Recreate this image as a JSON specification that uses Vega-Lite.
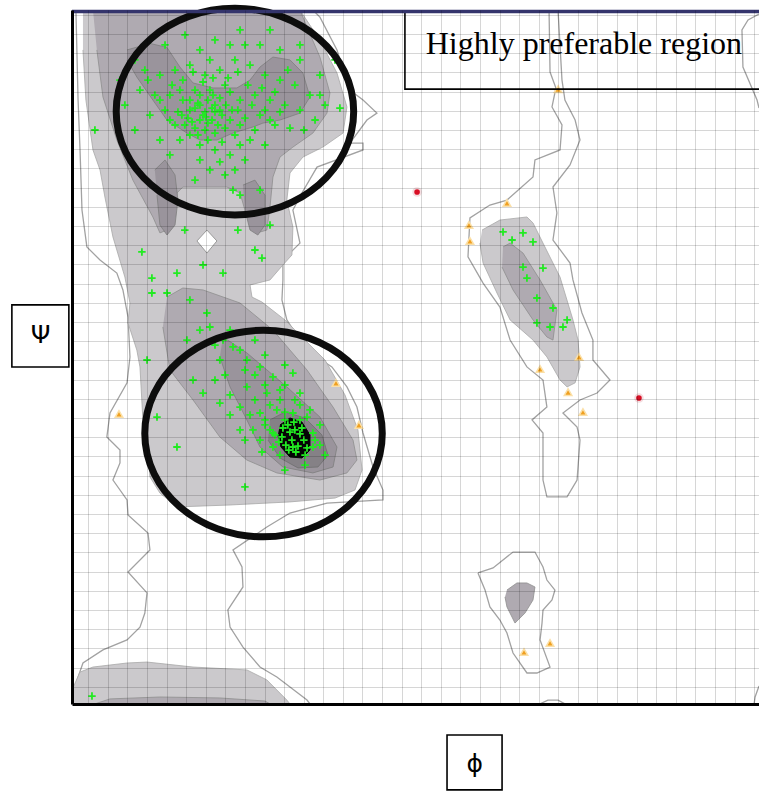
{
  "$schema": "https://vega.github.io/schema/vega-lite/v6.json",
  "width": 687,
  "height": 694,
  "autosize": {"type": "none"},
  "padding": {"left": 72, "top": 10, "right": 0, "bottom": 88},
  "background": "white",
  "config": {"view": {"stroke": null}},
  "datasets": {
    "poly": [
      {"s":"outL","i":0,"phi":-176.3,"psi":182.5},{"s":"outL","i":1,"phi":-175.2,"psi":135.6},{"s":"outL","i":2,"phi":-174.2,"psi":109.6},{"s":"outL","i":3,"phi":-173.2,"psi":78.3},{"s":"outL","i":4,"phi":-170.7,"psi":59.1},{"s":"outL","i":5,"phi":-164.0,"psi":52.3},{"s":"outL","i":6,"phi":-155.4,"psi":45.5},{"s":"outL","i":7,"phi":-152.3,"psi":36.7},{"s":"outL","i":8,"phi":-149.7,"psi":22.6},{"s":"outL","i":9,"phi":-148.7,"psi":1.8},{"s":"outL","i":10,"phi":-150.2,"psi":-11.7},{"s":"outL","i":11,"phi":-158.9,"psi":-27.4},{"s":"outL","i":12,"phi":-160.5,"psi":-39.9},{"s":"outL","i":13,"phi":-153.8,"psi":-46.7},{"s":"outL","i":14,"phi":-153.8,"psi":-53.4},{"s":"outL","i":15,"phi":-157.4,"psi":-62.3},{"s":"outL","i":16,"phi":-150.2,"psi":-72.7},{"s":"outL","i":17,"phi":-149.7,"psi":-80.5},{"s":"outL","i":18,"phi":-139.5,"psi":-89.9},{"s":"outL","i":19,"phi":-138.5,"psi":-98.7},{"s":"outL","i":20,"phi":-149.7,"psi":-110.2},{"s":"outL","i":21,"phi":-140.0,"psi":-121.1},{"s":"outL","i":22,"phi":-141.1,"psi":-131.6},{"s":"outL","i":23,"phi":-143.6,"psi":-138.9},{"s":"outL","i":24,"phi":-150.2,"psi":-145.6},{"s":"outL","i":25,"phi":-162.5,"psi":-150.8},{"s":"outL","i":26,"phi":-172.7,"psi":-157.6},{"s":"outL","i":27,"phi":-175.7,"psi":-166.4},{"s":"outL","i":28,"phi":-177.8,"psi":-176.9},{"s":"outL","i":29,"phi":-177.8,"psi":-178.9},{"s":"outL","i":30,"phi":-56.8,"psi":-178.9},{"s":"outL","i":31,"phi":-58.3,"psi":-176.9},{"s":"outL","i":32,"phi":-67.0,"psi":-170.1},{"s":"outL","i":33,"phi":-73.7,"psi":-164.9},{"s":"outL","i":34,"phi":-82.3,"psi":-159.7},{"s":"outL","i":35,"phi":-91.0,"psi":-149.3},{"s":"outL","i":36,"phi":-97.6,"psi":-138.9},{"s":"outL","i":37,"phi":-98.7,"psi":-130.0},{"s":"outL","i":38,"phi":-91.0,"psi":-118.0},{"s":"outL","i":39,"phi":-91.5,"psi":-107.6},{"s":"outL","i":40,"phi":-96.1,"psi":-98.7},{"s":"outL","i":41,"phi":-78.8,"psi":-86.8},{"s":"outL","i":42,"phi":-67.0,"psi":-79.5},{"s":"outL","i":43,"phi":-48.1,"psi":-74.3},{"s":"outL","i":44,"phi":-19.5,"psi":-72.7},{"s":"outL","i":45,"phi":-19.5,"psi":-67.5},{"s":"outL","i":46,"phi":-24.6,"psi":-55.5},{"s":"outL","i":47,"phi":-29.7,"psi":-37.8},{"s":"outL","i":48,"phi":-32.8,"psi":-24.3},{"s":"outL","i":49,"phi":-37.9,"psi":-13.8},{"s":"outL","i":50,"phi":-45.6,"psi":-3.4},{"s":"outL","i":51,"phi":-53.2,"psi":1.8},{"s":"outL","i":52,"phi":-61.9,"psi":10.6},{"s":"outL","i":53,"phi":-68.6,"psi":21.1},{"s":"outL","i":54,"phi":-71.1,"psi":31.5},{"s":"outL","i":55,"phi":-70.6,"psi":41.9},{"s":"outL","i":56,"phi":-70.6,"psi":52.3},{"s":"outL","i":57,"phi":-61.9,"psi":61.1},{"s":"outL","i":58,"phi":-65.5,"psi":78.3},{"s":"outL","i":59,"phi":-60.9,"psi":87.2},{"s":"outL","i":60,"phi":-53.2,"psi":100.7},{"s":"outL","i":61,"phi":-29.7,"psi":109.6},{"s":"outL","i":62,"phi":-29.7,"psi":113.2},{"s":"outL","i":63,"phi":-36.4,"psi":113.2},{"s":"outL","i":64,"phi":-27.7,"psi":125.2},{"s":"outL","i":65,"phi":-22.6,"psi":128.8},{"s":"outL","i":66,"phi":-29.7,"psi":135.6},{"s":"outL","i":67,"phi":-36.4,"psi":140.8},{"s":"outL","i":68,"phi":-43.0,"psi":161.7},{"s":"outL","i":69,"phi":-51.7,"psi":178.8},{"s":"outL","i":70,"phi":-55.3,"psi":182.5},{"s":"outL","i":71,"phi":-176.3,"psi":182.5},

      {"s":"L1","i":0,"phi":-172.7,"psi":182.5},{"s":"L1","i":1,"phi":-61.9,"psi":182.5},{"s":"L1","i":2,"phi":-51.7,"psi":166.7},{"s":"L1","i":3,"phi":-43.0,"psi":149.7},{"s":"L1","i":4,"phi":-37.9,"psi":132.0},{"s":"L1","i":5,"phi":-39.9,"psi":118.4},{"s":"L1","i":6,"phi":-50.2,"psi":111.1},{"s":"L1","i":7,"phi":-60.4,"psi":105.9},{"s":"L1","i":8,"phi":-67.0,"psi":97.6},{"s":"L1","i":9,"phi":-68.6,"psi":83.5},{"s":"L1","i":10,"phi":-65.5,"psi":69.5},{"s":"L1","i":11,"phi":-66.0,"psi":54.9},{"s":"L1","i":12,"phi":-70.6,"psi":49.7},{"s":"L1","i":13,"phi":-77.2,"psi":41.9},{"s":"L1","i":14,"phi":-87.4,"psi":39.3},{"s":"L1","i":15,"phi":-86.4,"psi":33.0},{"s":"L1","i":16,"phi":-81.3,"psi":30.4},{"s":"L1","i":17,"phi":-69.6,"psi":21.1},{"s":"L1","i":18,"phi":-61.9,"psi":13.2},{"s":"L1","i":19,"phi":-49.1,"psi":0.2},{"s":"L1","i":20,"phi":-38.9,"psi":-18.0},{"s":"L1","i":21,"phi":-32.3,"psi":-36.2},{"s":"L1","i":22,"phi":-30.2,"psi":-57.1},{"s":"L1","i":23,"phi":-33.8,"psi":-67.5},{"s":"L1","i":24,"phi":-44.0,"psi":-71.7},{"s":"L1","i":25,"phi":-67.0,"psi":-73.7},{"s":"L1","i":26,"phi":-97.6,"psi":-75.3},{"s":"L1","i":27,"phi":-124.7,"psi":-76.3},{"s":"L1","i":28,"phi":-133.4,"psi":-69.1},{"s":"L1","i":29,"phi":-138.5,"psi":-60.7},{"s":"L1","i":30,"phi":-139.5,"psi":-45.1},{"s":"L1","i":31,"phi":-142.1,"psi":-31.0},{"s":"L1","i":32,"phi":-143.6,"psi":-3.4},{"s":"L1","i":33,"phi":-145.2,"psi":5.4},{"s":"L1","i":34,"phi":-149.7,"psi":19.5},{"s":"L1","i":35,"phi":-148.7,"psi":29.9},{"s":"L1","i":36,"phi":-151.3,"psi":43.4},{"s":"L1","i":37,"phi":-157.4,"psi":64.3},{"s":"L1","i":38,"phi":-161.5,"psi":85.1},{"s":"L1","i":39,"phi":-164.0,"psi":99.2},{"s":"L1","i":40,"phi":-167.6,"psi":109.6},{"s":"L1","i":41,"phi":-171.2,"psi":135.6},{"s":"L1","i":42,"phi":-172.7,"psi":161.7},

      {"s":"BL1","i":0,"phi":-178.3,"psi":-171.6},{"s":"BL1","i":1,"phi":-174.2,"psi":-162.3},{"s":"BL1","i":2,"phi":-167.6,"psi":-159.7},{"s":"BL1","i":3,"phi":-150.2,"psi":-157.6},{"s":"BL1","i":4,"phi":-140.0,"psi":-157.1},{"s":"BL1","i":5,"phi":-116.5,"psi":-159.7},{"s":"BL1","i":6,"phi":-89.0,"psi":-161.2},{"s":"BL1","i":7,"phi":-78.8,"psi":-166.4},{"s":"BL1","i":8,"phi":-68.6,"psi":-176.9},{"s":"BL1","i":9,"phi":-67.0,"psi":-178.9},{"s":"BL1","i":10,"phi":-178.3,"psi":-178.9},

      {"s":"R1","i":0,"phi":31.1,"psi":67.9},{"s":"R1","i":1,"phi":40.2,"psi":73.1},{"s":"R1","i":2,"phi":54.0,"psi":74.7},{"s":"R1","i":3,"phi":57.1,"psi":71.6},{"s":"R1","i":4,"phi":62.2,"psi":61.1},{"s":"R1","i":5,"phi":70.9,"psi":43.4},{"s":"R1","i":6,"phi":77.5,"psi":21.1},{"s":"R1","i":7,"phi":80.1,"psi":10.6},{"s":"R1","i":8,"phi":81.1,"psi":-3.4},{"s":"R1","i":9,"phi":78.6,"psi":-11.7},{"s":"R1","i":10,"phi":74.5,"psi":-13.8},{"s":"R1","i":11,"phi":70.9,"psi":-10.2},{"s":"R1","i":12,"phi":64.2,"psi":1.8},{"s":"R1","i":13,"phi":57.1,"psi":10.6},{"s":"R1","i":14,"phi":45.4,"psi":21.1},{"s":"R1","i":15,"phi":38.7,"psi":35.1},{"s":"R1","i":16,"phi":31.6,"psi":50.7},{"s":"R1","i":17,"phi":30.0,"psi":61.1},

      {"s":"L2b","i":0,"phi":-167.6,"psi":182.5},{"s":"L2b","i":1,"phi":-61.9,"psi":182.5},{"s":"L2b","i":2,"phi":-58.3,"psi":173.6},{"s":"L2b","i":3,"phi":-51.7,"psi":158.0},{"s":"L2b","i":4,"phi":-46.6,"psi":139.3},{"s":"L2b","i":5,"phi":-48.1,"psi":128.8},{"s":"L2b","i":6,"phi":-55.3,"psi":118.4},{"s":"L2b","i":7,"phi":-65.5,"psi":111.1},{"s":"L2b","i":8,"phi":-72.1,"psi":105.9},{"s":"L2b","i":9,"phi":-75.7,"psi":95.5},{"s":"L2b","i":10,"phi":-77.2,"psi":79.9},{"s":"L2b","i":11,"phi":-78.8,"psi":67.9},{"s":"L2b","i":12,"phi":-83.9,"psi":66.4},{"s":"L2b","i":13,"phi":-89.0,"psi":74.7},{"s":"L2b","i":14,"phi":-92.5,"psi":87.2},{"s":"L2b","i":15,"phi":-99.2,"psi":90.3},{"s":"L2b","i":16,"phi":-113.0,"psi":90.3},{"s":"L2b","i":17,"phi":-121.7,"psi":90.3},{"s":"L2b","i":18,"phi":-124.7,"psi":87.2},{"s":"L2b","i":19,"phi":-126.8,"psi":74.7},{"s":"L2b","i":20,"phi":-129.8,"psi":67.9},{"s":"L2b","i":21,"phi":-133.4,"psi":66.4},{"s":"L2b","i":22,"phi":-137.0,"psi":74.7},{"s":"L2b","i":23,"phi":-147.2,"psi":93.9},{"s":"L2b","i":24,"phi":-155.4,"psi":114.8},{"s":"L2b","i":25,"phi":-162.5,"psi":137.2},{"s":"L2b","i":26,"phi":-165.6,"psi":161.7},

      {"s":"L2a","i":0,"phi":-129.8,"psi":33.0},{"s":"L2a","i":1,"phi":-121.7,"psi":37.7},{"s":"L2a","i":2,"phi":-111.4,"psi":36.7},{"s":"L2a","i":3,"phi":-92.5,"psi":29.9},{"s":"L2a","i":4,"phi":-75.7,"psi":15.8},{"s":"L2a","i":5,"phi":-58.3,"psi":-5.0},{"s":"L2a","i":6,"phi":-45.0,"psi":-24.3},{"s":"L2a","i":7,"phi":-34.8,"psi":-41.5},{"s":"L2a","i":8,"phi":-32.8,"psi":-51.9},{"s":"L2a","i":9,"phi":-37.9,"psi":-58.6},{"s":"L2a","i":10,"phi":-51.7,"psi":-62.3},{"s":"L2a","i":11,"phi":-73.7,"psi":-58.6},{"s":"L2a","i":12,"phi":-89.0,"psi":-51.9},{"s":"L2a","i":13,"phi":-102.8,"psi":-39.9},{"s":"L2a","i":14,"phi":-116.5,"psi":-20.6},{"s":"L2a","i":15,"phi":-128.3,"psi":-5.0},{"s":"L2a","i":16,"phi":-131.9,"psi":17.4},

      {"s":"BL2","i":0,"phi":-166.6,"psi":-178.9},{"s":"BL2","i":1,"phi":-158.9,"psi":-176.3},{"s":"BL2","i":2,"phi":-133.4,"psi":-175.3},{"s":"BL2","i":3,"phi":-102.8,"psi":-175.8},{"s":"BL2","i":4,"phi":-79.8,"psi":-177.4},{"s":"BL2","i":5,"phi":-77.2,"psi":-178.9},

      {"s":"R2","i":0,"phi":41.8,"psi":59.1},{"s":"R2","i":1,"phi":45.4,"psi":61.1},{"s":"R2","i":2,"phi":52.0,"psi":55.9},{"s":"R2","i":3,"phi":60.7,"psi":41.9},{"s":"R2","i":4,"phi":69.3,"psi":26.3},{"s":"R2","i":5,"phi":67.3,"psi":10.6},{"s":"R2","i":6,"phi":64.2,"psi":12.2},{"s":"R2","i":7,"phi":57.1,"psi":21.1},{"s":"R2","i":8,"phi":46.9,"psi":36.7},{"s":"R2","i":9,"phi":41.3,"psi":48.6},

      {"s":"S1","i":0,"phi":43.8,"psi":-119.6},{"s":"S1","i":1,"phi":48.9,"psi":-115.9},{"s":"S1","i":2,"phi":54.0,"psi":-115.9},{"s":"S1","i":3,"phi":58.1,"psi":-118.0},{"s":"S1","i":4,"phi":57.1,"psi":-124.8},{"s":"S1","i":5,"phi":53.0,"psi":-131.6},{"s":"S1","i":6,"phi":47.9,"psi":-136.8},{"s":"S1","i":7,"phi":43.8,"psi":-128.4},{"s":"S1","i":8,"phi":42.8,"psi":-123.2},

      {"s":"L3b","i":0,"phi":-150.2,"psi":161.7},{"s":"L3b","i":1,"phi":-138.5,"psi":165.1},{"s":"L3b","i":2,"phi":-129.8,"psi":163.0},{"s":"L3b","i":3,"phi":-123.2,"psi":152.8},{"s":"L3b","i":4,"phi":-116.5,"psi":144.5},{"s":"L3b","i":5,"phi":-106.3,"psi":141.9},{"s":"L3b","i":6,"phi":-94.1,"psi":141.9},{"s":"L3b","i":7,"phi":-87.4,"psi":146.0},{"s":"L3b","i":8,"phi":-82.3,"psi":152.8},{"s":"L3b","i":9,"phi":-75.7,"psi":158.0},{"s":"L3b","i":10,"phi":-67.0,"psi":156.5},{"s":"L3b","i":11,"phi":-60.4,"psi":149.7},{"s":"L3b","i":12,"phi":-56.8,"psi":137.2},{"s":"L3b","i":13,"phi":-61.9,"psi":128.8},{"s":"L3b","i":14,"phi":-72.1,"psi":125.2},{"s":"L3b","i":15,"phi":-80.8,"psi":123.6},{"s":"L3b","i":16,"phi":-85.9,"psi":121.6},{"s":"L3b","i":17,"phi":-96.1,"psi":118.4},{"s":"L3b","i":18,"phi":-104.3,"psi":114.8},{"s":"L3b","i":19,"phi":-113.0,"psi":114.8},{"s":"L3b","i":20,"phi":-119.6,"psi":118.4},{"s":"L3b","i":21,"phi":-129.8,"psi":125.2},{"s":"L3b","i":22,"phi":-137.0,"psi":135.6},{"s":"L3b","i":23,"phi":-145.2,"psi":147.6},{"s":"L3b","i":24,"phi":-150.2,"psi":156.5},

      {"s":"legL","i":0,"phi":-136.0,"psi":99.2},{"s":"legL","i":1,"phi":-130.8,"psi":104.4},{"s":"legL","i":2,"phi":-125.7,"psi":96.6},{"s":"legL","i":3,"phi":-124.2,"psi":83.5},{"s":"legL","i":4,"phi":-125.7,"psi":70.5},{"s":"legL","i":5,"phi":-129.8,"psi":65.3},{"s":"legL","i":6,"phi":-133.4,"psi":70.5},{"s":"legL","i":7,"phi":-134.9,"psi":86.1},

      {"s":"legR","i":0,"phi":-91.0,"psi":91.3},{"s":"legR","i":1,"phi":-84.9,"psi":93.9},{"s":"legR","i":2,"phi":-79.8,"psi":86.1},{"s":"legR","i":3,"phi":-79.8,"psi":70.5},{"s":"legR","i":4,"phi":-83.4,"psi":65.3},{"s":"legR","i":5,"phi":-87.4,"psi":67.9},{"s":"legR","i":6,"phi":-90.0,"psi":78.3},

      {"s":"L3a","i":0,"phi":-101.2,"psi":12.2},{"s":"L3a","i":1,"phi":-89.0,"psi":3.9},{"s":"L3a","i":2,"phi":-68.6,"psi":-13.8},{"s":"L3a","i":3,"phi":-51.7,"psi":-29.5},{"s":"L3a","i":4,"phi":-43.0,"psi":-45.1},{"s":"L3a","i":5,"phi":-45.0,"psi":-55.5},{"s":"L3a","i":6,"phi":-55.3,"psi":-58.6},{"s":"L3a","i":7,"phi":-70.6,"psi":-55.5},{"s":"L3a","i":8,"phi":-82.3,"psi":-45.1},{"s":"L3a","i":9,"phi":-89.0,"psi":-31.0},{"s":"L3a","i":10,"phi":-97.6,"psi":-13.8},{"s":"L3a","i":11,"phi":-102.8,"psi":1.8},

      {"s":"L4","i":0,"phi":-77.2,"psi":-31.0},{"s":"L4","i":1,"phi":-69.6,"psi":-26.9},{"s":"L4","i":2,"phi":-59.3,"psi":-30.0},{"s":"L4","i":3,"phi":-50.7,"psi":-38.8},{"s":"L4","i":4,"phi":-47.6,"psi":-49.3},{"s":"L4","i":5,"phi":-52.7,"psi":-55.5},{"s":"L4","i":6,"phi":-62.9,"psi":-56.0},{"s":"L4","i":7,"phi":-72.1,"psi":-50.8},{"s":"L4","i":8,"phi":-78.2,"psi":-41.5},

      {"s":"core","i":0,"phi":-72.1,"psi":-33.6},{"s":"core","i":1,"phi":-67.0,"psi":-30.0},{"s":"core","i":2,"phi":-60.9,"psi":-32.1},{"s":"core","i":3,"phi":-56.8,"psi":-38.8},{"s":"core","i":4,"phi":-56.8,"psi":-46.7},{"s":"core","i":5,"phi":-60.9,"psi":-50.8},{"s":"core","i":6,"phi":-67.0,"psi":-50.3},{"s":"core","i":7,"phi":-71.6,"psi":-45.1},{"s":"core","i":8,"phi":-73.2,"psi":-38.8},

      {"s":"dia","i":0,"phi":-109.4,"psi":67.9},{"s":"dia","i":1,"phi":-104.3,"psi":62.2},{"s":"dia","i":2,"phi":-109.4,"psi":55.9},{"s":"dia","i":3,"phi":-114.5,"psi":62.2},{"s":"dia","i":4,"phi":-109.4,"psi":67.9},

      {"s":"outR","i":0,"phi":65.3,"psi":182.0},{"s":"outR","i":1,"phi":65.8,"psi":150.2},{"s":"outR","i":2,"phi":68.8,"psi":141.9},{"s":"outR","i":3,"phi":66.8,"psi":132.0},{"s":"outR","i":4,"phi":71.9,"psi":122.6},{"s":"outR","i":5,"phi":70.9,"psi":109.6},{"s":"outR","i":6,"phi":58.1,"psi":104.4},{"s":"outR","i":7,"phi":57.1,"psi":95.5},{"s":"outR","i":8,"phi":43.8,"psi":83.5},{"s":"outR","i":9,"phi":35.1,"psi":80.9},{"s":"outR","i":10,"phi":24.9,"psi":74.2},{"s":"outR","i":11,"phi":23.9,"psi":53.9},{"s":"outR","i":12,"phi":31.6,"psi":40.3},{"s":"outR","i":13,"phi":40.2,"psi":27.8},{"s":"outR","i":14,"phi":45.4,"psi":10.6},{"s":"outR","i":15,"phi":54.0,"psi":-3.4},{"s":"outR","i":16,"phi":62.2,"psi":-10.2},{"s":"outR","i":17,"phi":64.2,"psi":-24.3},{"s":"outR","i":18,"phi":56.6,"psi":-31.0},{"s":"outR","i":19,"phi":62.2,"psi":-37.8},{"s":"outR","i":20,"phi":62.2,"psi":-62.3},{"s":"outR","i":21,"phi":64.2,"psi":-71.1},{"s":"outR","i":22,"phi":74.5,"psi":-71.1},{"s":"outR","i":23,"phi":79.6,"psi":-62.3},{"s":"outR","i":24,"phi":81.1,"psi":-41.5},{"s":"outR","i":25,"phi":79.6,"psi":-34.7},{"s":"outR","i":26,"phi":72.4,"psi":-27.4},{"s":"outR","i":27,"phi":81.1,"psi":-20.6},{"s":"outR","i":28,"phi":89.8,"psi":-17.0},{"s":"outR","i":29,"phi":96.4,"psi":-10.2},{"s":"outR","i":30,"phi":87.7,"psi":0.2},{"s":"outR","i":31,"phi":87.7,"psi":10.6},{"s":"outR","i":32,"phi":82.1,"psi":24.7},{"s":"outR","i":33,"phi":77.5,"psi":41.9},{"s":"outR","i":34,"phi":76.0,"psi":50.7},{"s":"outR","i":35,"phi":67.3,"psi":62.7},{"s":"outR","i":36,"phi":69.3,"psi":76.8},{"s":"outR","i":37,"phi":67.3,"psi":90.3},{"s":"outR","i":38,"phi":76.0,"psi":101.8},{"s":"outR","i":39,"phi":81.1,"psi":114.8},{"s":"outR","i":40,"phi":78.6,"psi":125.2},{"s":"outR","i":41,"phi":73.4,"psi":135.6},{"s":"outR","i":42,"phi":71.9,"psi":146.0},{"s":"outR","i":43,"phi":69.9,"psi":182.0},

      {"s":"outS","i":0,"phi":29.0,"psi":-110.7},{"s":"outS","i":1,"phi":36.7,"psi":-108.1},{"s":"outS","i":2,"phi":46.9,"psi":-99.8},{"s":"outS","i":3,"phi":58.1,"psi":-99.8},{"s":"outS","i":4,"phi":62.2,"psi":-107.6},{"s":"outS","i":5,"phi":64.2,"psi":-114.4},{"s":"outS","i":6,"phi":68.3,"psi":-119.6},{"s":"outS","i":7,"phi":66.8,"psi":-124.8},{"s":"outS","i":8,"phi":62.2,"psi":-130.0},{"s":"outS","i":9,"phi":61.7,"psi":-136.8},{"s":"outS","i":10,"phi":60.7,"psi":-145.6},{"s":"outS","i":11,"phi":65.8,"psi":-159.7},{"s":"outS","i":12,"phi":59.1,"psi":-162.8},{"s":"outS","i":13,"phi":54.0,"psi":-162.8},{"s":"outS","i":14,"phi":46.9,"psi":-152.4},{"s":"outS","i":15,"phi":43.8,"psi":-142.0},{"s":"outS","i":16,"phi":40.2,"psi":-135.2},{"s":"outS","i":17,"phi":35.1,"psi":-128.4},{"s":"outS","i":18,"phi":32.6,"psi":-119.6},{"s":"outS","i":19,"phi":29.0,"psi":-110.7},

      {"s":"arcS","i":0,"phi":60.7,"psi":-178.9},{"s":"arcS","i":1,"phi":64.7,"psi":-176.9},{"s":"arcS","i":2,"phi":69.9,"psi":-176.9},{"s":"arcS","i":3,"phi":73.4,"psi":-178.9},

      {"s":"outTR","i":0,"phi":172.5,"psi":180.4},{"s":"outTR","i":1,"phi":166.9,"psi":177.3},{"s":"outTR","i":2,"phi":163.8,"psi":172.1},{"s":"outTR","i":3,"phi":164.3,"psi":152.8},{"s":"outTR","i":4,"phi":171.5,"psi":135.6},{"s":"outTR","i":5,"phi":172.5,"psi":131.4},

      {"s":"outBR","i":0,"phi":172.5,"psi":-169.6},{"s":"outBR","i":1,"phi":170.5,"psi":-175.3},{"s":"outBR","i":2,"phi":170.0,"psi":-178.9}
    ],
    "green": [
      {"phi":-138.5,"psi":166.9},{"phi":-130.8,"psi":164.3},{"phi":-120.6,"psi":169.5},{"phi":-113.0,"psi":161.7},{"phi":-105.3,"psi":166.9},{"phi":-92.5,"psi":172.1},{"phi":-82.3,"psi":164.3},{"phi":-72.1,"psi":161.7},{"phi":-61.9,"psi":156.5},{"phi":-51.7,"psi":148.6},
      {"phi":-146.2,"psi":156.5},{"phi":-141.1,"psi":151.2},{"phi":-133.4,"psi":148.6},{"phi":-125.7,"psi":151.2},{"phi":-118.1,"psi":153.8},{"phi":-110.4,"psi":148.6},{"phi":-102.8,"psi":151.2},{"phi":-95.1,"psi":156.5},{"phi":-87.4,"psi":153.8},{"phi":-79.8,"psi":148.6},
      {"phi":-72.1,"psi":146.0},{"phi":-64.5,"psi":143.4},{"phi":-56.8,"psi":138.2},{"phi":-49.1,"psi":133.0},{"phi":-143.6,"psi":140.8},{"phi":-136.0,"psi":138.2},{"phi":-128.3,"psi":138.2},{"phi":-123.2,"psi":140.8},{"phi":-118.1,"psi":135.6},{"phi":-113.0,"psi":138.2},
      {"phi":-107.9,"psi":140.8},{"phi":-102.8,"psi":136.7},{"phi":-97.6,"psi":139.8},{"phi":-92.5,"psi":135.6},{"phi":-84.9,"psi":138.2},{"phi":-77.2,"psi":135.6},{"phi":-69.6,"psi":133.0},{"phi":-61.9,"psi":130.4},{"phi":-151.3,"psi":133.0},{"phi":-138.5,"psi":127.8},
      {"phi":-130.8,"psi":130.4},{"phi":-124.2,"psi":129.4},{"phi":-119.1,"psi":126.2},{"phi":-115.5,"psi":131.4},{"phi":-110.4,"psi":129.4},{"phi":-106.8,"psi":125.2},{"phi":-101.7,"psi":127.8},{"phi":-96.6,"psi":130.4},{"phi":-90.0,"psi":126.2},{"phi":-82.3,"psi":127.8},
      {"phi":-74.7,"psi":122.6},{"phi":-67.0,"psi":121.0},{"phi":-120.7,"psi":122.6},{"phi":-115.5,"psi":121.0},{"phi":-110.4,"psi":120.0},{"phi":-105.3,"psi":118.4},{"phi":-100.2,"psi":121.0},{"phi":-95.1,"psi":117.4},{"phi":-87.4,"psi":114.8},{"phi":-79.8,"psi":112.2},
      {"phi":-123.2,"psi":114.8},{"phi":-113.0,"psi":112.2},{"phi":-105.3,"psi":109.6},{"phi":-97.6,"psi":107.0},{"phi":-90.0,"psi":104.4},{"phi":-107.9,"psi":99.2},{"phi":-100.2,"psi":96.6},{"phi":-115.5,"psi":93.9},{"phi":-92.5,"psi":86.1},{"phi":-82.3,"psi":88.7},
      {"phi":-128.3,"psi":107.0},{"phi":-133.4,"psi":114.8},{"phi":-146.2,"psi":120.0},{"phi":-153.8,"psi":146.0},{"phi":-90.0,"psi":164.3},{"phi":-97.6,"psi":164.3},{"phi":-68.1,"psi":151.2},{"phi":-61.9,"psi":164.3},{"phi":-77.2,"psi":172.1},{"phi":-107.9,"psi":156.5},
      {"phi":-113.0,"psi":125.2},{"phi":-105.3,"psi":133.0},{"phi":-115.5,"psi":140.8},{"phi":-100.2,"psi":143.4},{"phi":-108.9,"psi":135.6},{"phi":-103.8,"psi":122.6},{"phi":-118.1,"psi":130.4},{"phi":-111.4,"psi":127.8},{"phi":-106.8,"psi":131.4},{"phi":-114.0,"psi":117.4},
      {"phi":-97.6,"psi":125.2},{"phi":-125.7,"psi":122.6},{"phi":-54.2,"psi":125.2},
      {"phi":-127.2,"psi":143.4},{"phi":-121.7,"psi":146.0},{"phi":-116.5,"psi":150.2},{"phi":-111.4,"psi":145.0},{"phi":-106.3,"psi":147.1},{"phi":-98.6,"psi":147.1},{"phi":-93.6,"psi":150.2},{"phi":-88.5,"psi":143.4},{"phi":-81.3,"psi":141.9},{"phi":-74.7,"psi":139.8},
      {"phi":-121.7,"psi":135.6},{"phi":-114.0,"psi":134.0},{"phi":-106.3,"psi":138.2},{"phi":-99.7,"psi":133.0},{"phi":-93.6,"psi":130.4},{"phi":-86.4,"psi":133.0},{"phi":-79.8,"psi":130.4},{"phi":-72.1,"psi":129.4},{"phi":-128.3,"psi":125.2},{"phi":-122.2,"psi":127.8},
      {"phi":-117.0,"psi":124.2},{"phi":-108.9,"psi":123.6},{"phi":-102.8,"psi":130.4},{"phi":-92.5,"psi":122.6},{"phi":-84.9,"psi":120.0},{"phi":-77.2,"psi":125.2},{"phi":-118.1,"psi":117.4},{"phi":-108.9,"psi":114.8},{"phi":-101.7,"psi":113.7},{"phi":-92.5,"psi":112.2},
      {"phi":-113.0,"psi":104.4},{"phi":-102.8,"psi":103.4},{"phi":-95.1,"psi":99.2},{"phi":-133.4,"psi":135.6},{"phi":-139.5,"psi":146.0},{"phi":-59.9,"psi":120.0},{"phi":-51.7,"psi":138.2},{"phi":-113.0,"psi":133.0},{"phi":-110.0,"psi":126.8},{"phi":-105.3,"psi":129.4},
      {"phi":-166.6,"psi":120.0},{"phi":-44.0,"psi":156.5},{"phi":-41.5,"psi":131.4},{"phi":-77.2,"psi":70.5},{"phi":-84.9,"psi":57.5},{"phi":-81.3,"psi":53.3},{"phi":-93.6,"psi":67.9},{"phi":-120.7,"psi":67.9},{"phi":-142.6,"psi":56.5},{"phi":-137.5,"psi":42.9},
      {"phi":-137.5,"psi":35.1},{"phi":-129.8,"psi":35.1},{"phi":-124.7,"psi":45.5},{"phi":-101.2,"psi":45.5},{"phi":-96.1,"psi":88.7},{"phi":-111.4,"psi":49.7},
      {"phi":-109.4,"psi":24.7},{"phi":-107.9,"psi":17.4},{"phi":-101.2,"psi":10.6},{"phi":-96.1,"psi":7.0},{"phi":-102.8,"psi":0.2},{"phi":-89.0,"psi":0.2},{"phi":-82.3,"psi":-3.4},{"phi":-75.7,"psi":-8.6},{"phi":-65.5,"psi":-6.6},{"phi":-89.0,"psi":-13.8},
      {"phi":-78.8,"psi":-17.0},{"phi":-72.1,"psi":-20.6},{"phi":-61.9,"psi":-17.0},{"phi":-92.5,"psi":-24.3},{"phi":-82.3,"psi":-27.4},{"phi":-73.7,"psi":-25.8},{"phi":-65.5,"psi":-27.4},{"phi":-58.3,"psi":-29.5},{"phi":-85.9,"psi":-36.2},{"phi":-75.7,"psi":-37.8},
      {"phi":-55.3,"psi":-37.8},{"phi":-65.5,"psi":-45.1},{"phi":-75.7,"psi":-45.1},{"phi":-55.3,"psi":-45.1},{"phi":-124.7,"psi":-45.1},{"phi":-134.9,"psi":-29.5},{"phi":-90.0,"psi":-65.9},{"phi":-116.5,"psi":-10.2},{"phi":-111.4,"psi":-17.0},{"phi":-102.8,"psi":-22.2},
      {"phi":-140.0,"psi":0.2},{"phi":-118.1,"psi":31.5},{"phi":-97.6,"psi":15.8},{"phi":-92.5,"psi":5.4},{"phi":-84.9,"psi":10.6},{"phi":-79.8,"psi":2.8},{"phi":-69.6,"psi":-2.4},{"phi":-84.9,"psi":-7.6},{"phi":-69.6,"psi":-12.8},{"phi":-61.9,"psi":-23.2},
      {"phi":-79.8,"psi":-31.0},{"phi":-51.7,"psi":-33.6},{"phi":-92.5,"psi":-36.2},{"phi":-82.3,"psi":-41.5},{"phi":-49.1,"psi":-49.3},{"phi":-59.3,"psi":-54.5},{"phi":-69.6,"psi":-57.1},{"phi":-97.6,"psi":-28.4},{"phi":-105.3,"psi":-10.2},{"phi":-119.6,"psi":10.6},
      {"phi":-90.0,"psi":-5.0},{"phi":-79.8,"psi":-12.8},{"phi":-72.1,"psi":-15.4},{"phi":-64.5,"psi":-20.6},{"phi":-56.8,"psi":-25.8},{"phi":-84.9,"psi":-20.6},{"phi":-77.2,"psi":-23.2},{"phi":-69.6,"psi":-26.9},{"phi":-61.9,"psi":-31.0},{"phi":-54.2,"psi":-41.5},
      {"phi":-79.8,"psi":-33.6},{"phi":-87.4,"psi":-28.4},{"phi":-97.6,"psi":-18.0},{"phi":-100.2,"psi":-7.6},{"phi":-51.7,"psi":-44.1},{"phi":-72.1,"psi":-49.3},{"phi":-81.3,"psi":-47.7},{"phi":-90.0,"psi":-41.5},{"phi":-105.3,"psi":8.0},{"phi":-113.0,"psi":15.8},
      {"phi":-70.6,"psi":-35.2},{"phi":-68.1,"psi":-33.6},{"phi":-64.5,"psi":-36.2},{"phi":-61.9,"psi":-38.3},{"phi":-66.0,"psi":-41.5},{"phi":-69.1,"psi":-44.1},{"phi":-62.9,"psi":-44.6},{"phi":-59.9,"psi":-41.5},{"phi":-67.0,"psi":-37.3},{"phi":-71.1,"psi":-39.9},
      {"phi":-64.0,"psi":-47.7},{"phi":-67.6,"psi":-46.7},{"phi":-72.7,"psi":-42.5},{"phi":-60.9,"psi":-35.2},{"phi":-69.6,"psi":-31.0},{"phi":-65.0,"psi":-32.1},{"phi":-58.3,"psi":-45.6},{"phi":-74.7,"psi":-38.8},{"phi":-77.2,"psi":-36.2},{"phi":-59.3,"psi":-49.3},
      {"phi":41.8,"psi":66.9},{"phi":52.0,"psi":66.4},{"phi":57.1,"psi":61.7},{"phi":52.0,"psi":48.6},{"phi":62.2,"psi":48.1},{"phi":54.0,"psi":42.9},{"phi":59.1,"psi":32.5},{"phi":67.3,"psi":27.3},{"phi":74.5,"psi":21.1},{"phi":59.1,"psi":19.5},
      {"phi":65.8,"psi":17.4},{"phi":72.4,"psi":17.4},{"phi":46.4,"psi":62.7},
      {"phi":-168.1,"psi":-174.8}
    ],
    "tri": [
      {"phi":69.9,"psi":141.3},{"phi":43.8,"psi":82.0},{"phi":24.4,"psi":70.5},{"phi":24.9,"psi":62.2},{"phi":80.6,"psi":1.8},{"phi":60.7,"psi":-4.5},{"phi":75.0,"psi":-16.5},{"phi":82.6,"psi":-26.9},{"phi":-154.3,"psi":-27.9},{"phi":-43.5,"psi":-11.7},{"phi":-31.8,"psi":-33.6},{"phi":52.5,"psi":-151.9},{"phi":65.8,"psi":-147.2}
    ],
    "red": [
      {"phi":-2.1,"psi":87.7},{"phi":111.2,"psi":-19.6}
    ],
    "rings": [
      {"region":"beta","phi":-95.1,"psi":129.6},{"region":"alpha","phi":-80.5,"psi":-38.1}
    ],
    "boxes": [
      {"box":"legend","phi":-8.3,"phi2":176,"psi":141.3,"psi2":182.0},
      {"box":"psi","phi":-209.0,"phi2":-179.9,"psi":28.9,"psi2":-3.4},
      {"box":"phi","phi":13.2,"phi2":41.3,"psi":-195.1,"psi2":-223.7}
    ],
    "topline": [
      {"phi":-178.3,"phi2":172.5,"psi":181.7}
    ]
  },
  "encoding": {
    "x": {
      "field": "phi", "type": "quantitative",
      "scale": {"domain": [-178.3, 172.5], "nice": false, "zero": false},
      "axis": {"orient": "bottom", "title": null, "labels": false, "ticks": false, "domain": true, "domainColor": "#000000", "domainWidth": 3, "grid": true, "gridColor": "#000000", "gridOpacity": 0.16, "gridWidth": 1, "zindex": 1,
        "values": [-170,-160,-150,-140,-130,-120,-110,-100,-90,-80,-70,-60,-50,-40,-30,-20,-10,0,10,20,30,40,50,60,70,80,90,100,110,120,130,140,150,160,170]}
    },
    "y": {
      "field": "psi", "type": "quantitative",
      "scale": {"domain": [-178.95, 182.5], "nice": false, "zero": false},
      "axis": {"orient": "left", "title": null, "labels": false, "ticks": false, "domain": true, "domainColor": "#000000", "domainWidth": 3, "grid": true, "gridColor": "#000000", "gridOpacity": 0.16, "gridWidth": 1, "zindex": 1,
        "values": [-170,-160,-150,-140,-130,-120,-110,-100,-90,-80,-70,-60,-50,-40,-30,-20,-10,0,10,20,30,40,50,60,70,80,90,100,110,120,130,140,150,160,170,180]}
    }
  },
  "layer": [
    {
      "data": {"name": "poly"},
      "transform": [{"filter": {"field": "s", "oneOf": ["outL", "outR", "outS", "arcS", "outTR", "outBR"]}}],
      "mark": {"type": "line", "stroke": "#a2a2a2", "strokeWidth": 1.3, "clip": true},
      "encoding": {"detail": {"field": "s"}, "order": {"field": "i", "type": "quantitative"}}
    },
    {
      "data": {"name": "poly"},
      "transform": [{"filter": {"field": "s", "oneOf": ["L1", "BL1", "R1"]}}],
      "mark": {"type": "line", "fill": "#cbc9cc", "stroke": "#a8a8a8", "strokeWidth": 0.8, "clip": true},
      "encoding": {"detail": {"field": "s"}, "order": {"field": "i", "type": "quantitative"}}
    },
    {
      "data": {"name": "poly"},
      "transform": [{"filter": {"field": "s", "oneOf": ["L2b", "L2a", "BL2", "R2", "S1"]}}],
      "mark": {"type": "line", "fill": "#afaab1", "stroke": "#8e8e8e", "strokeWidth": 0.8, "clip": true},
      "encoding": {"detail": {"field": "s"}, "order": {"field": "i", "type": "quantitative"}}
    },
    {
      "data": {"name": "poly"},
      "transform": [{"filter": {"field": "s", "oneOf": ["L3b", "legL", "legR", "L3a"]}}],
      "mark": {"type": "line", "fill": "#9a949c", "stroke": "#7d7d7d", "strokeWidth": 0.8, "clip": true},
      "encoding": {"detail": {"field": "s"}, "order": {"field": "i", "type": "quantitative"}}
    },
    {
      "data": {"name": "poly"},
      "transform": [{"filter": {"field": "s", "equal": "L4"}}],
      "mark": {"type": "line", "fill": "#858186", "stroke": "#6e6e6e", "strokeWidth": 0.8, "clip": true},
      "encoding": {"order": {"field": "i", "type": "quantitative"}}
    },
    {
      "data": {"name": "poly"},
      "transform": [{"filter": {"field": "s", "equal": "core"}}],
      "mark": {"type": "line", "fill": "#050505", "stroke": "#050505", "strokeWidth": 1, "clip": true},
      "encoding": {"order": {"field": "i", "type": "quantitative"}}
    },
    {
      "data": {"name": "poly"},
      "transform": [{"filter": {"field": "s", "equal": "dia"}}],
      "mark": {"type": "line", "fill": "#ffffff", "stroke": "#9a9a9a", "strokeWidth": 1, "clip": true},
      "encoding": {"order": {"field": "i", "type": "quantitative"}}
    },
    {
      "data": {"name": "green"},
      "mark": {"type": "point", "shape": "M-1,0L1,0M0,-1L0,1", "size": 56, "filled": false, "stroke": "#22ea22", "strokeWidth": 1.8, "opacity": 1}
    },
    {
      "data": {"name": "tri"},
      "mark": {"type": "point", "shape": "triangle-up", "size": 58, "filled": true, "fill": "#f0a020", "stroke": "#fbe0a8", "strokeWidth": 1.5, "opacity": 1}
    },
    {
      "data": {"name": "red"},
      "mark": {"type": "point", "shape": "circle", "size": 58, "filled": true, "fill": "#d90f25", "stroke": "#f5dde0", "strokeWidth": 2, "opacity": 1}
    },
    {
      "data": {"name": "rings"},
      "mark": {"type": "point", "shape": "M1,0C1,0.4805,0.5523,0.87,0,0.87C-0.5523,0.87,-1,0.4805,-1,0C-1,-0.4805,-0.5523,-0.87,0,-0.87C0.5523,-0.87,1,-0.4805,1,0Z", "size": 56400, "filled": false, "stroke": "#0d0d0d", "strokeWidth": 7, "opacity": 1}
    },
    {
      "data": {"name": "boxes"},
      "mark": {"type": "rect", "filled": false, "stroke": "#000000", "strokeWidth": 1.6},
      "encoding": {"x2": {"field": "phi2"}, "y2": {"field": "psi2"}}
    },
    {
      "data": {"name": "topline"},
      "mark": {"type": "rule", "stroke": "#34346c", "strokeWidth": 3.5},
      "encoding": {"x2": {"field": "phi2"}}
    },
    {
      "data": {"values": [{"phi": 83.1, "psi": 159.6, "label": "Highly preferable region"}]},
      "mark": {"type": "text", "font": "Liberation Serif", "fontSize": 32, "align": "center", "baseline": "alphabetic", "color": "#000000"},
      "encoding": {"text": {"field": "label"}}
    },
    {
      "data": {"values": [{"phi": -194.4, "psi": 13.2, "label": "Ψ"}, {"phi": 27.4, "psi": -210.2, "label": "ϕ"}]},
      "mark": {"type": "text", "font": "DejaVu Sans", "fontSize": 25, "align": "center", "baseline": "middle", "color": "#000000"},
      "encoding": {"text": {"field": "label"}}
    }
  ]
}
